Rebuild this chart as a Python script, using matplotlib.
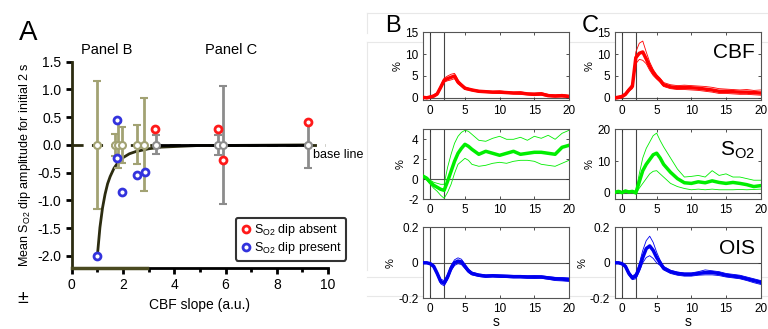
import numpy as np
import matplotlib
matplotlib.use("Agg")
import matplotlib.pyplot as plt
from matplotlib.lines import Line2D

plt.rcParams['font.family'] = ['Liberation Sans', 'DejaVu Sans']

# ---- Panel A data ----
olive_x = [1.0, 1.7, 1.82, 1.97, 2.53, 2.82]
olive_err = [1.15, 0.2, 0.42, 0.33, 0.35, 0.84]
gray_x = [3.3, 5.7, 5.9, 9.2]
gray_err = [0.17, 0.18, 1.06, 0.41]
absent_x = [3.25, 5.7, 5.9, 9.2]
absent_y = [0.29, 0.28, -0.28, 0.41]
present_x = [1.0, 1.75, 1.78, 1.95, 2.53, 2.84]
present_y = [-2.0, 0.45, -0.23, -0.85, -0.55, -0.49]
fit_x = [1.0, 1.1, 1.2, 1.3, 1.4, 1.5, 1.65, 1.8, 2.0, 2.25, 2.5, 3.0, 3.5, 4.0, 5.0, 6.0, 9.2]
fit_y = [-2.0, -1.49, -1.14, -0.89, -0.70, -0.57, -0.42, -0.32, -0.23, -0.16, -0.12, -0.07,
         -0.04, -0.03, -0.01, -0.01, 0.0]

# ---- Time courses (panels B and C) ----
t = [-1, -0.5, 0, 0.5, 1, 1.5, 2, 2.5, 3, 3.5, 4, 4.5, 5, 5.5, 6, 7, 8, 9, 10, 11, 12,
     13, 14, 15, 16, 17, 18, 19, 20]

cbf_b = [0.1, 0.0, 0.2, 0.4, 0.9, 2.4, 4.0, 4.4, 4.7, 5.0, 3.6, 2.9, 2.2, 2.0, 1.8, 1.5,
         1.4, 1.3, 1.3, 1.2, 1.1, 1.1, 0.9, 0.8, 0.9, 0.5, 0.4, 0.5, 0.3]
cbf_b_hi = [0.3, 0.2, 0.4, 0.7, 1.2, 2.8, 4.5, 5.0, 5.4, 5.6, 4.1, 3.2, 2.5, 2.2, 2.0, 1.7,
            1.6, 1.5, 1.6, 1.4, 1.3, 1.4, 1.1, 1.1, 1.2, 0.8, 0.7, 0.8, 0.6]
cbf_b_lo = [-0.1, -0.2, 0.0, 0.2, 0.6, 2.0, 3.6, 3.9, 4.1, 4.4, 3.2, 2.6, 1.9, 1.8, 1.6, 1.3,
            1.2, 1.1, 1.0, 1.0, 0.9, 0.8, 0.7, 0.5, 0.6, 0.3, 0.2, 0.2, 0.1]

cbf_c = [0.0, 0.1, 0.3, 0.8, 1.8, 2.6, 9.2, 10.2, 10.5, 8.9, 7.2, 5.8, 4.8, 4.0, 3.0, 2.5,
         2.3, 2.4, 2.3, 2.2, 2.0, 1.8, 1.5, 1.5, 1.4, 1.3, 1.3, 1.2, 1.1]
cbf_c_hi = [0.3, 0.4, 0.6, 1.1, 2.2, 3.2, 10.5, 12.5, 13.0, 10.5, 8.2, 6.5, 5.3, 4.5, 3.5, 3.0,
            2.8, 2.9, 2.8, 2.7, 2.6, 2.4, 2.1, 2.0, 1.9, 1.8, 1.9, 1.7, 1.8]
cbf_c_lo = [-0.3, -0.2, 0.0, 0.5, 1.5, 2.1, 7.8, 8.8, 8.6, 7.8, 6.3, 5.1, 4.3, 3.6, 2.6, 2.1,
            1.9, 1.9, 1.8, 1.7, 1.5, 1.3, 1.0, 1.0, 0.9, 0.8, 0.8, 0.7, 0.6]

so2_b = [0.3, 0.1, -0.3, -0.6, -0.8, -1.0, -1.1, -0.2, 0.8, 1.8, 2.6, 3.1, 3.5, 3.3, 3.0, 2.5,
         2.8, 2.6, 2.4, 2.6, 2.8, 2.5, 2.6, 2.7, 2.7, 2.6, 2.5, 3.2, 3.4]
so2_b_hi = [0.4, 0.2, -0.1, -0.3, -0.4, -0.5, -0.5, 1.2, 2.5, 3.6, 4.3, 4.7, 4.9, 4.8, 4.5, 3.9,
            3.8, 4.1, 4.3, 4.0, 4.0, 4.2, 3.9, 4.3, 4.1, 4.4, 4.0, 4.6, 4.9]
so2_b_lo = [0.2, -0.1, -0.5, -0.9, -1.2, -1.6, -1.9, -1.3, -0.5, 0.6, 1.5, 1.8, 2.1, 1.9, 1.5, 1.3,
            1.4, 1.6, 1.7, 1.6, 1.8, 1.9, 1.9, 1.8, 1.5, 1.4, 1.3, 1.6, 1.9]

so2_c = [0.2, 0.5, 0.1, 0.6, 0.3, 0.5, 0.0, 3.5, 7.0, 9.0, 10.5, 12.0, 12.5, 11.0, 9.0, 6.5,
         4.5, 3.2, 3.0, 3.5, 3.2, 3.8, 3.3, 3.0, 3.3, 3.0, 2.6, 2.0, 2.3]
so2_c_hi = [0.4, 0.8, 0.4, 0.9, 0.6, 0.8, 0.5, 6.0, 11.0, 14.0, 16.0, 18.0, 18.8, 16.5, 14.5, 11.0,
            7.5, 5.0, 5.2, 5.5, 5.0, 7.0, 5.5, 6.0, 5.0, 5.0, 4.5, 4.0, 4.0]
so2_c_lo = [0.0, 0.2, -0.2, 0.3, 0.0, 0.2, -0.3, 1.5, 3.0, 4.5, 6.0, 6.8, 7.0, 6.0, 5.0, 3.0,
            2.0, 1.4, 1.0, 1.2, 1.0, 1.2, 1.0, 1.0, 1.0, 1.1, 1.0, 1.1, 1.2]

ois_b = [0.0, 0.0, -0.005, -0.02, -0.06, -0.105, -0.115, -0.08, -0.03, 0.0, 0.01, 0.005, -0.02,
         -0.045, -0.06, -0.07, -0.075, -0.073, -0.075, -0.076, -0.078, -0.078, -0.08, -0.08,
         -0.08, -0.085, -0.09, -0.092, -0.095]
ois_b_hi = [0.003, 0.003, 0.0, -0.012, -0.05, -0.092, -0.1, -0.065, -0.015, 0.017, 0.028, 0.02,
            -0.008, -0.035, -0.052, -0.063, -0.068, -0.067, -0.068, -0.07, -0.071, -0.071,
            -0.073, -0.072, -0.073, -0.078, -0.082, -0.083, -0.085]
ois_b_lo = [-0.003, -0.003, -0.01, -0.028, -0.07, -0.118, -0.13, -0.095, -0.045, -0.015, -0.005,
            -0.01, -0.032, -0.055, -0.068, -0.077, -0.082, -0.08, -0.082, -0.083, -0.085, -0.085,
            -0.087, -0.088, -0.087, -0.093, -0.1, -0.102, -0.105]

ois_c = [0.0, 0.0, -0.005, -0.02, -0.06, -0.085, -0.075, -0.03, 0.03, 0.08, 0.095, 0.07, 0.03,
         0.0, -0.03, -0.05, -0.06, -0.065, -0.065, -0.06, -0.055, -0.055, -0.06, -0.07, -0.075,
         -0.08, -0.09, -0.1, -0.11]
ois_c_hi = [0.004, 0.004, 0.0, -0.012, -0.05, -0.075, -0.06, -0.005, 0.07, 0.125, 0.15, 0.115,
            0.06, 0.015, -0.02, -0.042, -0.052, -0.057, -0.057, -0.05, -0.04, -0.045, -0.05,
            -0.06, -0.065, -0.07, -0.08, -0.09, -0.1]
ois_c_lo = [-0.004, -0.004, -0.01, -0.028, -0.07, -0.095, -0.09, -0.05, 0.0, 0.03, 0.04, 0.025,
            0.0, -0.015, -0.04, -0.06, -0.07, -0.075, -0.075, -0.07, -0.068, -0.068, -0.072,
            -0.08, -0.085, -0.09, -0.1, -0.112, -0.122]

OLIVE = '#a2a273'
GRAY = '#8c8c8c'
DARK = '#2c2c10'

fig = plt.figure(figsize=(7.68, 3.29), dpi=100)

# faint page layout lines in the background
for (x0, x1, y0, y1) in [(367, 768, 13, 13), (367, 768, 42, 42), (367, 367, 13, 33),
                         (367, 367, 42, 270), (367, 768, 277, 277), (367, 768, 296, 296)]:
    fig.add_artist(Line2D([x0 / 768, x1 / 768], [1 - y0 / 329, 1 - y1 / 329],
                          color='#e8e8e8', lw=0.8, zorder=-5))

# ---------------- Panel A ----------------
ax = fig.add_axes([0.0934, 0.1854, 0.3337, 0.627])
ax.set_xlim(0, 10)
ax.set_ylim(-2.22, 1.5)
for s in ['top', 'right']:
    ax.spines[s].set_visible(False)
ax.spines['left'].set_color(DARK)
ax.spines['left'].set_linewidth(2)
ax.spines['bottom'].set_linewidth(2)
ax.plot([0, 2.95], [-2.22, -2.22], color='#4a4a20', lw=2.5, clip_on=False, zorder=3)

ax.plot([0, 9.9], [0, 0], color=DARK, lw=2, dashes=(4, 3), zorder=1)
ax.plot(fit_x, fit_y, color=DARK, lw=2, zorder=2)
ax.plot([3.5, 9.2], [0, 0], color='black', lw=2, zorder=2)

ax.errorbar(olive_x, np.zeros(len(olive_x)), yerr=olive_err, fmt='o', color=OLIVE,
            mfc='white', mec=OLIVE, ms=5, mew=1.5, elinewidth=2, capsize=3, capthick=2, zorder=3)
ax.errorbar(gray_x, np.zeros(len(gray_x)), yerr=gray_err, fmt='o', color=GRAY,
            mfc='white', mec=GRAY, ms=5, mew=1.5, elinewidth=2, capsize=3, capthick=2, zorder=3)
ax.plot(absent_x, absent_y, 'o', mfc='white', mec='#ff1a1a', ms=5, mew=2, ls='none', zorder=4)
ax.plot(present_x, present_y, 'o', mfc='white', mec='#3333dd', ms=5, mew=2, ls='none', zorder=4)

ax.set_xticks([0, 2, 4, 6, 8, 10])
ax.set_xticks([1, 3, 5, 7, 9], minor=True)
ax.set_yticks([-2.0, -1.5, -1.0, -0.5, 0.0, 0.5, 1.0, 1.5])
ax.set_yticklabels(['-2.0', '-1.5', '-1.0', '-0.5', '0.0', '0.5', '1.0', '1.5'])
ax.tick_params(axis='both', which='major', labelsize=10, width=2, length=4, direction='out')
ax.tick_params(axis='x', which='minor', width=2, length=3, direction='out')
ax.set_xlabel('CBF slope (a.u.)', fontsize=10, labelpad=4)
ax.set_ylabel('Mean S$\\mathregular{_{O2}}$ dip amplitude for initial 2 s', fontsize=9, labelpad=3)
ax.text(9.4, -0.18, 'base line', fontsize=9, va='center', ha='left')
ax.text(1.37, 1.72, 'Panel B', fontsize=10.5, ha='center', va='center')
ax.text(6.2, 1.72, 'Panel C', fontsize=10.5, ha='center', va='center')

handles = [Line2D([], [], marker='o', ls='none', mfc='white', mec='#ff1a1a', ms=5, mew=2),
           Line2D([], [], marker='o', ls='none', mfc='white', mec='#3333dd', ms=5, mew=2)]
leg = ax.legend(handles, ['S$\\mathregular{_{O2}}$ dip absent', 'S$\\mathregular{_{O2}}$ dip present'],
                loc='lower left', bbox_to_anchor=(0.64, 0.035), fontsize=9, frameon=True,
                fancybox=True, handletextpad=0.1, borderpad=0.35, labelspacing=0.2,
                handlelength=1.0, borderaxespad=0)
leg.get_frame().set_edgecolor('black')
leg.get_frame().set_linewidth(1.5)
leg.set_clip_on(False)

fig.text(0.025, 0.9, 'A', fontsize=20, ha='left', va='center')
fig.text(0.023, 0.094, '\u00b1', fontsize=14, ha='left', va='center')

# ---------------- Panels B and C ----------------
rows = [(0.696, 0.2058), (0.3942, 0.2128), (0.0933, 0.2158)]
cols = [0.5512, 0.8008]
series = [
    [(cbf_b, cbf_b_hi, cbf_b_lo), (cbf_c, cbf_c_hi, cbf_c_lo)],
    [(so2_b, so2_b_hi, so2_b_lo), (so2_c, so2_c_hi, so2_c_lo)],
    [(ois_b, ois_b_hi, ois_b_lo), (ois_c, ois_c_hi, ois_c_lo)],
]
colors = ['#ff0000', '#00ee00', '#0000ee']
ylims = [[(-0.5, 15), (-0.5, 15)], [(-2, 5), (-2, 20)], [(-0.2, 0.2), (-0.2, 0.2)]]
yticks = [[[0, 5, 10, 15], [0, 5, 10, 15]], [[-2, 0, 2, 4], [0, 10, 20]],
          [[-0.2, 0, 0.2], [-0.2, 0, 0.2]]]
ytl = [[['0', '5', '10', '15'], ['0', '5', '10', '15']], [['-2', '0', '2', '4'], ['0', '10', '20']],
       [['-0.2', '0', '0.2'], ['-0.2', '0', '0.2']]]
names = ['CBF', 'S$\\mathregular{_{O2}}$', 'OIS']

for r, (bot, h) in enumerate(rows):
    for c, left in enumerate(cols):
        a = fig.add_axes([left, bot, 0.1897, h])
        mean, hi, lo = series[r][c]
        col = colors[r]
        a.axhline(0, color='#555555', lw=0.8, zorder=1)
        a.axvline(0, color='#444444', lw=0.8, zorder=1)
        a.axvline(2, color='#444444', lw=0.8, zorder=1)
        a.plot(t, hi, color=col, lw=0.6, zorder=2)
        a.plot(t, lo, color=col, lw=0.6, zorder=2)
        a.plot(t, mean, color=col, lw=2.5, zorder=3)
        a.set_xlim(-1, 20)
        a.set_ylim(*ylims[r][c])
        a.set_xticks([0, 5, 10, 15, 20])
        a.set_yticks(yticks[r][c])
        a.set_yticklabels(ytl[r][c])
        a.tick_params(labelsize=8.5, direction='in', length=2, width=0.6, colors='#333333',
                      labelcolor='black', top=True, right=True)
        for s in a.spines.values():
            s.set_color('#555555')
            s.set_linewidth(0.8)
        a.set_ylabel('%', fontsize=8, labelpad=2)
        if r == 2:
            a.set_xlabel('s', fontsize=10, labelpad=0)
        if c == 1:
            a.text(0.96, 0.7, names[r], transform=a.transAxes, fontsize=15,
                   ha='right', va='center')

fig.text(0.502, 0.92, 'B', fontsize=17, ha='left', va='center')
fig.text(0.757, 0.92, 'C', fontsize=17, ha='left', va='center')

fig.savefig('out.png', dpi=100)
